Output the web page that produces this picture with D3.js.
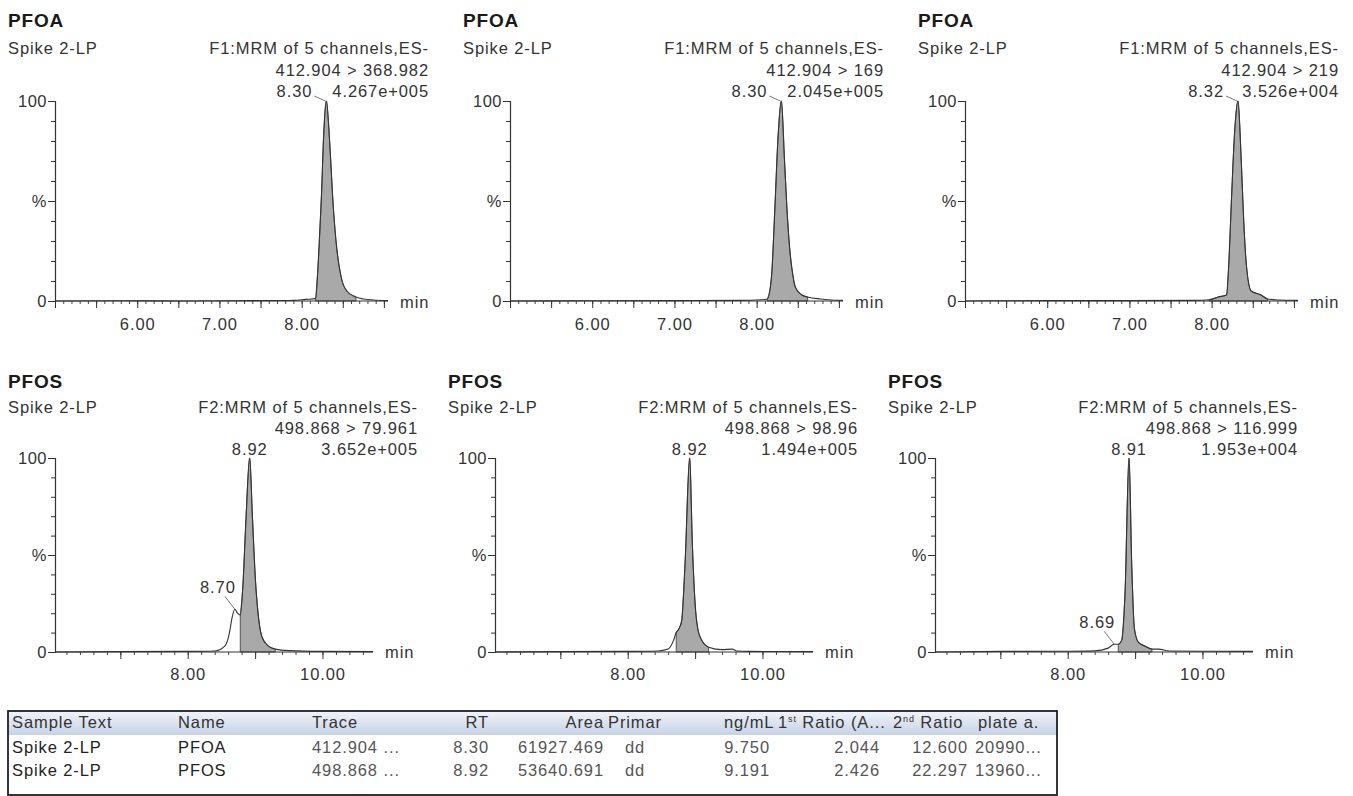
<!DOCTYPE html>
<html>
<head>
<meta charset="utf-8">
<script src="https://cdn.jsdelivr.net/npm/d3@7"></script>
<style>
body { margin: 0; background: #fff; }
svg { font-family: "Liberation Sans", Arial, sans-serif; }
</style>
</head>
<body>
<div id="chart"></div>
<script>
// chromatogram data, one entry per panel (top row PFOA, bottom row PFOS)
var compounds = ["PFOA", "PFOA", "PFOA", "PFOS", "PFOS", "PFOS"];
var sampleName = "Spike 2-LP";
var functions = ["F1:MRM of 5 channels,ES-", "F1:MRM of 5 channels,ES-", "F1:MRM of 5 channels,ES-",
                 "F2:MRM of 5 channels,ES-", "F2:MRM of 5 channels,ES-", "F2:MRM of 5 channels,ES-"];
var transitions = ["412.904 > 368.982", "412.904 > 169", "412.904 > 219",
                   "498.868 > 79.961", "498.868 > 98.96", "498.868 > 116.999"];
var peakRT = [8.30, 8.30, 8.32, 8.92, 8.92, 8.91];
var intensities = ["4.267e+005", "2.045e+005", "3.526e+004", "3.652e+005", "1.494e+005", "1.953e+004"];
var minorRT = [null, null, null, 8.70, null, 8.69];
var minorPct = [null, null, null, 22, null, 4];
var integration = [[8.17, 8.66], [8.13, 8.62], [7.97, 8.68], [8.78, 9.3], [8.72, 9.2], [8.75, 9.25]];

// [time (min), % of max]
var trace1 = [[5.0,0],[5.8,0.1],[6.6,0],[7.4,0.2],[7.9,0.3],[8.05,0.8],[8.17,1.2],[8.20,18],[8.24,52],[8.27,85],[8.30,100],[8.34,80],[8.38,50],[8.42,29],[8.48,12],[8.55,5],[8.66,2],[8.75,1],[8.9,0.4],[9.05,0.2]];
var trace2 = [[5.0,0],[6.0,0.1],[7.0,0.2],[7.8,0.3],[8.05,0.6],[8.13,1],[8.18,12],[8.22,45],[8.26,82],[8.30,100],[8.34,69],[8.37,45],[8.40,27],[8.44,13],[8.47,7],[8.55,3],[8.62,2],[8.78,1],[8.95,0.4],[9.05,0.3]];
var trace3 = [[5.0,0],[6.0,0.2],[7.0,0.2],[7.8,0.3],[7.97,0.6],[8.08,2],[8.18,3],[8.21,20],[8.24,50],[8.28,85],[8.32,100],[8.36,70],[8.39,40],[8.42,19],[8.48,5],[8.6,3],[8.68,1],[8.8,0.5],[9.05,0.3]];
var trace4 = [[6.03,0],[7.0,0.2],[8.0,0.3],[8.4,0.5],[8.55,3],[8.62,10],[8.66,18],[8.70,22],[8.74,20],[8.78,19],[8.82,35],[8.86,65],[8.92,100],[8.96,70],[9.0,40],[9.05,18],[9.1,8],[9.2,3],[9.3,1.5],[9.5,0.7],[10.0,0.3],[10.75,0.2]];
var trace5 = [[6.03,0],[7.0,0.2],[8.0,0.3],[8.45,0.5],[8.6,1.5],[8.68,6],[8.72,10],[8.76,12],[8.8,16],[8.85,45],[8.92,100],[8.96,55],[9.0,25],[9.04,12],[9.1,6],[9.2,2.5],[9.4,1.2],[9.55,1.5],[9.62,0.5],[9.8,0.3],[10.75,0.2]];
var trace6 = [[6.03,0],[7.0,0.3],[8.0,0.4],[8.4,0.6],[8.6,2],[8.69,4],[8.75,4],[8.8,6],[8.85,30],[8.91,100],[8.95,45],[8.99,12],[9.05,5],[9.15,3],[9.25,1.5],[9.35,1.5],[9.5,0.5],[10.0,0.4],[10.75,0.3]];
var traces = [trace1, trace2, trace3, trace4, trace5, trace6];

var topXLabels = [6, 7, 8];
var bottomXLabels = [8, 10];

// results table
var tableHeaders = ["Sample Text", "Name", "Trace", "RT", "Area", "Primar", "ng/mL", "1st Ratio (A...", "2nd Ratio", "plate a."];
var rowSample = ["Spike 2-LP", "Spike 2-LP"];
var rowName = ["PFOA", "PFOS"];
var rowTrace = ["412.904 ...", "498.868 ..."];
var rowRT = ["8.30", "8.92"];
var rowArea = ["61927.469", "53640.691"];
var rowPrimary = ["dd", "dd"];
var rowConc = ["9.750", "9.191"];
var rowRatio1 = ["2.044", "2.426"];
var rowRatio2 = ["12.600", "22.297"];
var rowPlate = ["20990...", "13960..."];

var svG = d3.select("#chart")
    .append("svg")
    .attr("width", 1353)
    .attr("height", 796);

var textColor = "#333";
var fontSize = 16.5;
var spacing = 0.9;

var addText = function(g, x, y, anchor, str) {
    return g.append("text").attr("x", x).attr("y", y).attr("text-anchor", anchor)
        .attr("font-size", fontSize).attr("letter-spacing", spacing)
        .attr("fill", textColor).text(str);
};

// layout for the two rows of panels
var topRow = {y100: 101, y0: 301, ox0: 55, step: 455, width: 333, domain: [5.0, 9.05],
              minorStep: 0.1, majorStep: 0.5, labels: topXLabels, headerRight: 374,
              titleY: 27, lineY: [54, 76, 97], labelY: 29, minY: 7};
var bottomRow = {y100: 458, y0: 652, ox0: 55, step: 440, width: 318, domain: [6.03, 10.75],
                 minorStep: 0.2, majorStep: 1.0, labels: bottomXLabels, headerRight: 363,
                 titleY: 388, lineY: [413, 434, 455], labelY: 28, minY: 6};

var drawPanel = function(i) {
    var row = i < 3 ? topRow : bottomRow;
    var col = i % 3;
    var ox = row.ox0 + col * row.step;
    var g = svG.append("g");

    var x = d3.scaleLinear().domain(row.domain).range([ox, ox + row.width]);
    var y = d3.scaleLinear().domain([0, 100]).range([row.y0, row.y100]);

    // header texts
    g.append("text").attr("x", ox - 47).attr("y", row.titleY)
        .attr("font-size", 19).attr("font-weight", "bold").attr("letter-spacing", 0.8)
        .attr("fill", "#1a1a1a").text(compounds[i]);
    addText(g, ox - 47, row.lineY[0], "start", sampleName);
    var right = ox + row.headerRight;
    addText(g, right, row.lineY[0], "end", functions[i]);
    addText(g, right, row.lineY[1], "end", transitions[i]);
    addText(g, right, row.lineY[2], "end", intensities[i]);

    // integrated area
    var pts = traces[i];
    var inRange = pts.filter(function(d) { return d[0] >= integration[i][0] && d[0] <= integration[i][1]; });
    var area = d3.area()
        .x(function(d) { return x(d[0]); })
        .y0(y(0))
        .y1(function(d) { return y(d[1]); })
        .curve(d3.curveMonotoneX);
    g.append("path").attr("d", area(inRange))
        .attr("fill", "#a9a9a9").attr("stroke", "#444").attr("stroke-width", 0.9);

    var line = d3.line()
        .x(function(d) { return x(d[0]); })
        .y(function(d) { return y(d[1]); })
        .curve(d3.curveMonotoneX);
    g.append("path").attr("d", line(pts))
        .attr("fill", "none").attr("stroke", "#333").attr("stroke-width", 1.1);

    // y axis
    var yAxis = d3.axisLeft(y)
        .tickValues([0, 10, 20, 30, 40, 50, 60, 70, 80, 90, 100])
        .tickSize(4)
        .tickPadding(4)
        .tickFormat(function(d) { return d === 0 ? "0" : d === 100 ? "100" : d === 50 ? "%" : ""; });
    var ya = g.append("g").attr("transform", "translate(" + ox + ",0)").call(yAxis);
    ya.select(".domain").attr("stroke", "#333").attr("stroke-width", 1.2);
    ya.selectAll("line").attr("stroke", "#333");
    ya.selectAll("text").attr("font-size", fontSize).attr("fill", textColor)
        .attr("letter-spacing", 0.5)
        .attr("font-family", "Liberation Sans, Arial, sans-serif");
    ya.selectAll(".tick").filter(function(d) { return d === 0 || d === 50 || d === 100; })
        .select("line").attr("x2", -7);

    // x axis: minor and major ticks
    var minorTicks = d3.range(Math.ceil(row.domain[0] / row.minorStep) * row.minorStep, row.domain[1], row.minorStep);
    var majorTicks = d3.range(Math.ceil(row.domain[0] / row.majorStep) * row.majorStep, row.domain[1], row.majorStep);
    var xMinor = d3.axisBottom(x).tickValues(minorTicks).tickSize(3).tickFormat("");
    var xm = g.append("g").attr("transform", "translate(0," + row.y0 + ")").call(xMinor);
    xm.select(".domain").remove();
    xm.selectAll("line").attr("stroke", "#444");
    var xMajor = d3.axisBottom(x).tickValues(majorTicks).tickSize(7)
        .tickFormat(function(d) {
            var hit = row.labels.filter(function(l) { return Math.abs(l - d) < 1e-6; });
            return hit.length ? d3.format(".2f")(d) : "";
        });
    var xa = g.append("g").attr("transform", "translate(0," + row.y0 + ")").call(xMajor);
    xa.select(".domain").attr("stroke", "#333").attr("stroke-width", 1.2)
        .attr("d", "M" + ox + ",0H" + (ox + row.width));
    xa.selectAll("line").attr("stroke", "#333");
    xa.selectAll("text").attr("font-size", fontSize).attr("fill", textColor)
        .attr("letter-spacing", spacing).attr("y", row.labelY).attr("dy", 0)
        .attr("font-family", "Liberation Sans, Arial, sans-serif");
    addText(g, ox + row.width + 12, row.y0 + row.minY, "start", "min");

    // peak labels
    var px = x(peakRT[i]);
    if (i < 3) {
        addText(g, px - 14, row.lineY[2], "end", d3.format(".2f")(peakRT[i]));
        g.append("line").attr("x1", px - 12).attr("y1", row.lineY[2] - 1)
            .attr("x2", px - 1).attr("y2", y(100))
            .attr("stroke", "#555").attr("stroke-width", 0.8);
    } else {
        addText(g, px, row.lineY[2], "middle", d3.format(".2f")(peakRT[i]));
    }
    if (minorRT[i] !== null) {
        var mx = x(minorRT[i]);
        var my = y(minorPct[i]);
        addText(g, mx - 17, my - 16, "middle", d3.format(".2f")(minorRT[i]));
        g.append("line").attr("x1", mx - 10).attr("y1", my - 13).attr("x2", mx).attr("y2", my)
            .attr("stroke", "#555").attr("stroke-width", 0.8);
    }
};

for (var i = 0; i < traces.length; i++) {
    drawPanel(i);
}

// results table
var tbl = {x: 8, y: 711, w: 1049, h: 84, headerH: 24, headerY: 728, rowY: [753, 776]};
var defs = svG.append("defs");
var grad = defs.append("linearGradient").attr("id", "hdr").attr("x1", 0).attr("y1", 0).attr("x2", 0).attr("y2", 1);
grad.append("stop").attr("offset", "0%").attr("stop-color", "#f1f4fa");
grad.append("stop").attr("offset", "100%").attr("stop-color", "#c6d2e6");

var tg = svG.append("g");
tg.append("rect").attr("x", tbl.x).attr("y", tbl.y).attr("width", tbl.w).attr("height", tbl.headerH)
    .attr("fill", "url(#hdr)");
tg.append("rect").attr("x", tbl.x).attr("y", tbl.y).attr("width", tbl.w).attr("height", tbl.h)
    .attr("fill", "none").attr("stroke", "#1c1f2c").attr("stroke-width", 1.8);

// column anchors: header x, header anchor, cell x, cell anchor
var colLayout = [
    [12, "start", 12, "start"], [178, "start", 178, "start"], [312, "start", 312, "start"],
    [489, "end", 489, "end"], [604, "end", 604, "end"], [608, "start", 625, "start"],
    [724, "start", 770, "end"], [778, "start", 880, "end"], [893, "start", 968, "end"],
    [978, "start", 975, "start"]
];
var rowCols = [rowSample, rowName, rowTrace, rowRT, rowArea, rowPrimary, rowConc, rowRatio1, rowRatio2, rowPlate];

tableHeaders.forEach(function(h, c) {
    var t = addText(tg, colLayout[c][0], tbl.headerY, colLayout[c][1], "");
    if (h.indexOf("1st") === 0 || h.indexOf("2nd") === 0) {
        t.append("tspan").text(h.charAt(0));
        t.append("tspan").attr("font-size", 9).attr("dy", -6).text(h.substring(1, 3));
        t.append("tspan").attr("dy", 6).text(h.substring(3));
    } else {
        t.text(h);
    }
});

rowCols.forEach(function(vals, c) {
    vals.forEach(function(v, r) {
        addText(tg, colLayout[c][2], tbl.rowY[r], colLayout[c][3], v)
            .attr("fill", (c === 0 || c === 1) ? "#222" : "#555");
    });
});
</script>
</body>
</html>
